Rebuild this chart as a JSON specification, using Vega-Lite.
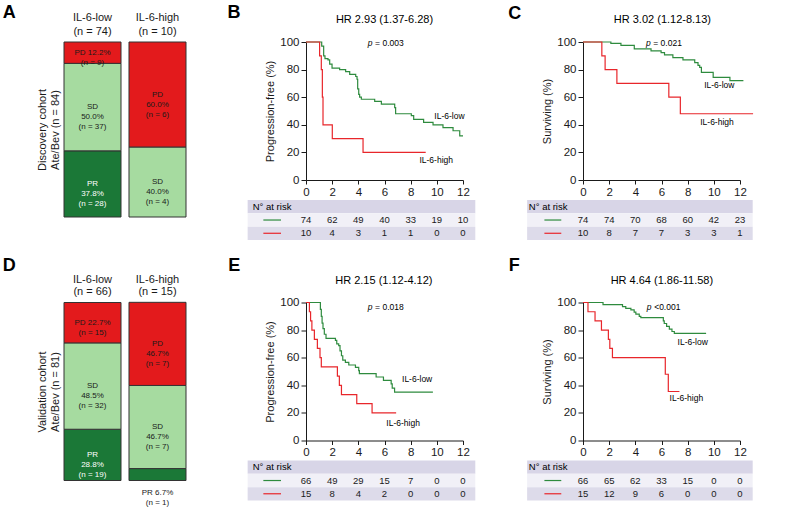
{
  "$schema": "https://vega.github.io/schema/vega-lite/v6.json",
  "padding": {"left": 2, "top": 4, "right": 0, "bottom": 0},
  "background": "white",
  "config": {
    "font": "Liberation Sans",
    "view": {"stroke": null},
    "axis": {"grid": false, "domainColor": "#1a1a1a", "tickColor": "#1a1a1a", "labelColor": "#1a1a1a", "titleColor": "#1a1a1a", "labelOverlap": false},
    "axisX": {"tickCount": 7},
    "axisY": {"tickCount": 6}
  },
  "datasets": {
    "bars": [
      {"cohort": "Discovery", "group": "IL-6-low", "gn": "(n = 74)", "resp": "PR", "rank": 1, "pct": 37.8, "label": "PR\n37.8%\n(n = 28)"},
      {"cohort": "Discovery", "group": "IL-6-low", "gn": "(n = 74)", "resp": "SD", "rank": 2, "pct": 50.0, "label": "SD\n50.0%\n(n = 37)"},
      {"cohort": "Discovery", "group": "IL-6-low", "gn": "(n = 74)", "resp": "PD", "rank": 3, "pct": 12.2, "label": "PD 12.2%\n(n = 9)"},
      {"cohort": "Discovery", "group": "IL-6-high", "gn": "(n = 10)", "resp": "SD", "rank": 2, "pct": 40.0, "label": "SD\n40.0%\n(n = 4)"},
      {"cohort": "Discovery", "group": "IL-6-high", "gn": "(n = 10)", "resp": "PD", "rank": 3, "pct": 60.0, "label": "PD\n60.0%\n(n = 6)"},
      {"cohort": "Validation", "group": "IL-6-low", "gn": "(n = 66)", "resp": "PR", "rank": 1, "pct": 28.8, "label": "PR\n28.8%\n(n = 19)"},
      {"cohort": "Validation", "group": "IL-6-low", "gn": "(n = 66)", "resp": "SD", "rank": 2, "pct": 48.5, "label": "SD\n48.5%\n(n = 32)"},
      {"cohort": "Validation", "group": "IL-6-low", "gn": "(n = 66)", "resp": "PD", "rank": 3, "pct": 22.7, "label": "PD 22.7%\n(n = 15)"},
      {"cohort": "Validation", "group": "IL-6-high", "gn": "(n = 15)", "resp": "PR", "rank": 1, "pct": 6.7, "label": "PR 6.7%\n(n = 1)"},
      {"cohort": "Validation", "group": "IL-6-high", "gn": "(n = 15)", "resp": "SD", "rank": 2, "pct": 46.7, "label": "SD\n46.7%\n(n = 7)"},
      {"cohort": "Validation", "group": "IL-6-high", "gn": "(n = 15)", "resp": "PD", "rank": 3, "pct": 46.7, "label": "PD\n46.7%\n(n = 7)"}
    ],
    "km": [
      {"panel": "B", "group": "IL-6-low", "t": 0, "s": 100}, {"panel": "B", "group": "IL-6-low", "t": 1.2, "s": 97}, {"panel": "B", "group": "IL-6-low", "t": 1.35, "s": 90}, {"panel": "B", "group": "IL-6-low", "t": 1.45, "s": 88}, {"panel": "B", "group": "IL-6-low", "t": 1.68, "s": 87}, {"panel": "B", "group": "IL-6-low", "t": 1.81, "s": 84}, {"panel": "B", "group": "IL-6-low", "t": 1.99, "s": 81}, {"panel": "B", "group": "IL-6-low", "t": 2.57, "s": 80}, {"panel": "B", "group": "IL-6-low", "t": 3.03, "s": 78.5}, {"panel": "B", "group": "IL-6-low", "t": 3.34, "s": 76.6}, {"panel": "B", "group": "IL-6-low", "t": 3.8, "s": 75}, {"panel": "B", "group": "IL-6-low", "t": 3.9, "s": 73}, {"panel": "B", "group": "IL-6-low", "t": 3.95, "s": 66}, {"panel": "B", "group": "IL-6-low", "t": 4.03, "s": 62}, {"panel": "B", "group": "IL-6-low", "t": 4.1, "s": 60}, {"panel": "B", "group": "IL-6-low", "t": 4.23, "s": 58.5}, {"panel": "B", "group": "IL-6-low", "t": 5.25, "s": 57}, {"panel": "B", "group": "IL-6-low", "t": 5.76, "s": 55}, {"panel": "B", "group": "IL-6-low", "t": 6.78, "s": 52.5}, {"panel": "B", "group": "IL-6-low", "t": 6.85, "s": 48}, {"panel": "B", "group": "IL-6-low", "t": 8.05, "s": 46.6}, {"panel": "B", "group": "IL-6-low", "t": 8.23, "s": 44}, {"panel": "B", "group": "IL-6-low", "t": 8.99, "s": 41.8}, {"panel": "B", "group": "IL-6-low", "t": 9.71, "s": 40}, {"panel": "B", "group": "IL-6-low", "t": 10.47, "s": 38}, {"panel": "B", "group": "IL-6-low", "t": 11.24, "s": 35.7}, {"panel": "B", "group": "IL-6-low", "t": 11.75, "s": 32}, {"panel": "B", "group": "IL-6-low", "t": 12.0, "s": 32},
      {"panel": "B", "group": "IL-6-high", "t": 0, "s": 100}, {"panel": "B", "group": "IL-6-high", "t": 1.04, "s": 90}, {"panel": "B", "group": "IL-6-high", "t": 1.17, "s": 80}, {"panel": "B", "group": "IL-6-high", "t": 1.25, "s": 60}, {"panel": "B", "group": "IL-6-high", "t": 1.3, "s": 40}, {"panel": "B", "group": "IL-6-high", "t": 2.01, "s": 30}, {"panel": "B", "group": "IL-6-high", "t": 4.36, "s": 20}, {"panel": "B", "group": "IL-6-high", "t": 9.15, "s": 20},
      {"panel": "C", "group": "IL-6-low", "t": 0, "s": 100}, {"panel": "C", "group": "IL-6-low", "t": 2.13, "s": 99}, {"panel": "C", "group": "IL-6-low", "t": 2.9, "s": 97.5}, {"panel": "C", "group": "IL-6-low", "t": 3.92, "s": 95}, {"panel": "C", "group": "IL-6-low", "t": 5.2, "s": 93.5}, {"panel": "C", "group": "IL-6-low", "t": 5.97, "s": 92.3}, {"panel": "C", "group": "IL-6-low", "t": 6.23, "s": 90.6}, {"panel": "C", "group": "IL-6-low", "t": 6.87, "s": 88.7}, {"panel": "C", "group": "IL-6-low", "t": 7.64, "s": 87}, {"panel": "C", "group": "IL-6-low", "t": 8.54, "s": 85}, {"panel": "C", "group": "IL-6-low", "t": 8.79, "s": 83}, {"panel": "C", "group": "IL-6-low", "t": 8.92, "s": 81.6}, {"panel": "C", "group": "IL-6-low", "t": 9.05, "s": 78}, {"panel": "C", "group": "IL-6-low", "t": 9.95, "s": 74.4}, {"panel": "C", "group": "IL-6-low", "t": 11.23, "s": 72}, {"panel": "C", "group": "IL-6-low", "t": 12.26, "s": 72},
      {"panel": "C", "group": "IL-6-high", "t": 0, "s": 100}, {"panel": "C", "group": "IL-6-high", "t": 1.44, "s": 90}, {"panel": "C", "group": "IL-6-high", "t": 1.69, "s": 80}, {"panel": "C", "group": "IL-6-high", "t": 2.59, "s": 70}, {"panel": "C", "group": "IL-6-high", "t": 6.56, "s": 60}, {"panel": "C", "group": "IL-6-high", "t": 7.44, "s": 48}, {"panel": "C", "group": "IL-6-high", "t": 13.0, "s": 48},
      {"panel": "E", "group": "IL-6-low", "t": 0, "s": 100}, {"panel": "E", "group": "IL-6-low", "t": 1.1, "s": 95}, {"panel": "E", "group": "IL-6-low", "t": 1.17, "s": 90}, {"panel": "E", "group": "IL-6-low", "t": 1.23, "s": 85}, {"panel": "E", "group": "IL-6-low", "t": 1.3, "s": 81}, {"panel": "E", "group": "IL-6-low", "t": 1.4, "s": 77}, {"panel": "E", "group": "IL-6-low", "t": 1.53, "s": 74}, {"panel": "E", "group": "IL-6-low", "t": 2.25, "s": 72.5}, {"panel": "E", "group": "IL-6-low", "t": 2.35, "s": 70}, {"panel": "E", "group": "IL-6-low", "t": 2.5, "s": 68.7}, {"panel": "E", "group": "IL-6-low", "t": 2.6, "s": 65}, {"panel": "E", "group": "IL-6-low", "t": 2.71, "s": 61.4}, {"panel": "E", "group": "IL-6-low", "t": 2.81, "s": 58.3}, {"panel": "E", "group": "IL-6-low", "t": 3.01, "s": 56.6}, {"panel": "E", "group": "IL-6-low", "t": 3.27, "s": 54.7}, {"panel": "E", "group": "IL-6-low", "t": 3.78, "s": 53}, {"panel": "E", "group": "IL-6-low", "t": 4.03, "s": 50.6}, {"panel": "E", "group": "IL-6-low", "t": 4.08, "s": 48.5}, {"panel": "E", "group": "IL-6-low", "t": 5.36, "s": 46}, {"panel": "E", "group": "IL-6-low", "t": 5.92, "s": 43.5}, {"panel": "E", "group": "IL-6-low", "t": 6.51, "s": 41}, {"panel": "E", "group": "IL-6-low", "t": 6.59, "s": 38}, {"panel": "E", "group": "IL-6-low", "t": 6.77, "s": 35}, {"panel": "E", "group": "IL-6-low", "t": 9.7, "s": 35},
      {"panel": "E", "group": "IL-6-high", "t": 0, "s": 100}, {"panel": "E", "group": "IL-6-high", "t": 0.26, "s": 93.3}, {"panel": "E", "group": "IL-6-high", "t": 0.35, "s": 86.7}, {"panel": "E", "group": "IL-6-high", "t": 0.45, "s": 80}, {"panel": "E", "group": "IL-6-high", "t": 0.64, "s": 73.3}, {"panel": "E", "group": "IL-6-high", "t": 0.87, "s": 66.7}, {"panel": "E", "group": "IL-6-high", "t": 1.07, "s": 60}, {"panel": "E", "group": "IL-6-high", "t": 1.17, "s": 53.3}, {"panel": "E", "group": "IL-6-high", "t": 2.4, "s": 46.7}, {"panel": "E", "group": "IL-6-high", "t": 2.55, "s": 40}, {"panel": "E", "group": "IL-6-high", "t": 2.71, "s": 33.3}, {"panel": "E", "group": "IL-6-high", "t": 3.88, "s": 26.7}, {"panel": "E", "group": "IL-6-high", "t": 5.05, "s": 20}, {"panel": "E", "group": "IL-6-high", "t": 6.89, "s": 20},
      {"panel": "F", "group": "IL-6-low", "t": 0, "s": 100}, {"panel": "F", "group": "IL-6-low", "t": 1.53, "s": 98.5}, {"panel": "F", "group": "IL-6-low", "t": 3.02, "s": 97}, {"panel": "F", "group": "IL-6-low", "t": 3.27, "s": 95.7}, {"panel": "F", "group": "IL-6-low", "t": 3.66, "s": 94.7}, {"panel": "F", "group": "IL-6-low", "t": 3.91, "s": 93}, {"panel": "F", "group": "IL-6-low", "t": 4.04, "s": 91.6}, {"panel": "F", "group": "IL-6-low", "t": 4.3, "s": 89.9}, {"panel": "F", "group": "IL-6-low", "t": 4.42, "s": 89}, {"panel": "F", "group": "IL-6-low", "t": 6.14, "s": 86.7}, {"panel": "F", "group": "IL-6-low", "t": 6.21, "s": 84.8}, {"panel": "F", "group": "IL-6-low", "t": 6.39, "s": 82.7}, {"panel": "F", "group": "IL-6-low", "t": 6.6, "s": 80.7}, {"panel": "F", "group": "IL-6-low", "t": 6.8, "s": 79}, {"panel": "F", "group": "IL-6-low", "t": 6.98, "s": 77.6}, {"panel": "F", "group": "IL-6-low", "t": 9.41, "s": 77.6},
      {"panel": "F", "group": "IL-6-high", "t": 0, "s": 100}, {"panel": "F", "group": "IL-6-high", "t": 0.38, "s": 93.3}, {"panel": "F", "group": "IL-6-high", "t": 0.92, "s": 86.7}, {"panel": "F", "group": "IL-6-high", "t": 1.41, "s": 80}, {"panel": "F", "group": "IL-6-high", "t": 1.94, "s": 73.3}, {"panel": "F", "group": "IL-6-high", "t": 2.05, "s": 66.7}, {"panel": "F", "group": "IL-6-high", "t": 2.25, "s": 60}, {"panel": "F", "group": "IL-6-high", "t": 6.29, "s": 48}, {"panel": "F", "group": "IL-6-high", "t": 6.52, "s": 35.5}, {"panel": "F", "group": "IL-6-high", "t": 7.37, "s": 35.5}
    ],
    "risk": [
      {"panel": "B", "group": "IL-6-low", "t": 0, "n": 74}, {"panel": "B", "group": "IL-6-low", "t": 2, "n": 62}, {"panel": "B", "group": "IL-6-low", "t": 4, "n": 49}, {"panel": "B", "group": "IL-6-low", "t": 6, "n": 40}, {"panel": "B", "group": "IL-6-low", "t": 8, "n": 33}, {"panel": "B", "group": "IL-6-low", "t": 10, "n": 19}, {"panel": "B", "group": "IL-6-low", "t": 12, "n": 10},
      {"panel": "B", "group": "IL-6-high", "t": 0, "n": 10}, {"panel": "B", "group": "IL-6-high", "t": 2, "n": 4}, {"panel": "B", "group": "IL-6-high", "t": 4, "n": 3}, {"panel": "B", "group": "IL-6-high", "t": 6, "n": 1}, {"panel": "B", "group": "IL-6-high", "t": 8, "n": 1}, {"panel": "B", "group": "IL-6-high", "t": 10, "n": 0}, {"panel": "B", "group": "IL-6-high", "t": 12, "n": 0},
      {"panel": "C", "group": "IL-6-low", "t": 0, "n": 74}, {"panel": "C", "group": "IL-6-low", "t": 2, "n": 74}, {"panel": "C", "group": "IL-6-low", "t": 4, "n": 70}, {"panel": "C", "group": "IL-6-low", "t": 6, "n": 68}, {"panel": "C", "group": "IL-6-low", "t": 8, "n": 60}, {"panel": "C", "group": "IL-6-low", "t": 10, "n": 42}, {"panel": "C", "group": "IL-6-low", "t": 12, "n": 23},
      {"panel": "C", "group": "IL-6-high", "t": 0, "n": 10}, {"panel": "C", "group": "IL-6-high", "t": 2, "n": 8}, {"panel": "C", "group": "IL-6-high", "t": 4, "n": 7}, {"panel": "C", "group": "IL-6-high", "t": 6, "n": 7}, {"panel": "C", "group": "IL-6-high", "t": 8, "n": 3}, {"panel": "C", "group": "IL-6-high", "t": 10, "n": 3}, {"panel": "C", "group": "IL-6-high", "t": 12, "n": 1},
      {"panel": "E", "group": "IL-6-low", "t": 0, "n": 66}, {"panel": "E", "group": "IL-6-low", "t": 2, "n": 49}, {"panel": "E", "group": "IL-6-low", "t": 4, "n": 29}, {"panel": "E", "group": "IL-6-low", "t": 6, "n": 15}, {"panel": "E", "group": "IL-6-low", "t": 8, "n": 7}, {"panel": "E", "group": "IL-6-low", "t": 10, "n": 0}, {"panel": "E", "group": "IL-6-low", "t": 12, "n": 0},
      {"panel": "E", "group": "IL-6-high", "t": 0, "n": 15}, {"panel": "E", "group": "IL-6-high", "t": 2, "n": 8}, {"panel": "E", "group": "IL-6-high", "t": 4, "n": 4}, {"panel": "E", "group": "IL-6-high", "t": 6, "n": 2}, {"panel": "E", "group": "IL-6-high", "t": 8, "n": 0}, {"panel": "E", "group": "IL-6-high", "t": 10, "n": 0}, {"panel": "E", "group": "IL-6-high", "t": 12, "n": 0},
      {"panel": "F", "group": "IL-6-low", "t": 0, "n": 66}, {"panel": "F", "group": "IL-6-low", "t": 2, "n": 65}, {"panel": "F", "group": "IL-6-low", "t": 4, "n": 62}, {"panel": "F", "group": "IL-6-low", "t": 6, "n": 33}, {"panel": "F", "group": "IL-6-low", "t": 8, "n": 15}, {"panel": "F", "group": "IL-6-low", "t": 10, "n": 0}, {"panel": "F", "group": "IL-6-low", "t": 12, "n": 0},
      {"panel": "F", "group": "IL-6-high", "t": 0, "n": 15}, {"panel": "F", "group": "IL-6-high", "t": 2, "n": 12}, {"panel": "F", "group": "IL-6-high", "t": 4, "n": 9}, {"panel": "F", "group": "IL-6-high", "t": 6, "n": 6}, {"panel": "F", "group": "IL-6-high", "t": 8, "n": 0}, {"panel": "F", "group": "IL-6-high", "t": 10, "n": 0}, {"panel": "F", "group": "IL-6-high", "t": 12, "n": 0}
    ]
  },
  "columns": 3,
  "spacing": {"row": 85.5, "column": 120},
  "bounds": "flush",
  "resolve": {"scale": {"color": "independent"}},
  "concat": [
    {
      "width": 122, "height": 175,
      "data": {"name": "bars"},
      "transform": [{"filter": "datum.cohort === 'Discovery'"}],
      "encoding": {
        "x": {"field": "group", "type": "nominal", "sort": null, "scale": {"paddingInner": 0.123, "paddingOuter": 0}, "axis": null}
      },
      "layer": [
        {"mark": {"type": "bar", "stroke": "#333333", "strokeWidth": 1},
         "encoding": {
           "y": {"field": "pct", "type": "quantitative", "stack": "zero", "scale": {"domain": [0, 100], "nice": false}, "axis": {"title": ["Discovery cohort", "Ate/Bev (n = 84)"], "labels": false, "ticks": false, "domain": false, "titleFontSize": 11, "titleFontWeight": "normal", "titlePadding": 4, "titleLineHeight": 13}},
           "order": {"field": "rank", "type": "quantitative", "sort": "ascending"},
           "color": {"field": "resp", "type": "nominal", "scale": {"domain": ["PR", "SD", "PD"], "range": ["#1b7837", "#a6dba0", "#e31a1c"]}, "legend": null}
         }},
        {"mark": {"type": "text", "fontSize": 8, "lineBreak": "\n", "lineHeight": 10, "baseline": "middle", "align": "center"},
         "encoding": {
           "y": {"field": "pct", "type": "quantitative", "stack": "zero", "bandPosition": 0.5},
           "order": {"field": "rank", "type": "quantitative", "sort": "ascending"},
           "detail": {"field": "resp", "type": "nominal"},
           "text": {"condition": {"test": "datum.pct < 10", "value": ""}, "field": "label", "type": "nominal"},
           "color": {"condition": {"test": "datum.resp === 'PR'", "value": "#ffffff"}, "value": "#1a1a1a"}
         }},
        {"transform": [{"filter": "datum.rank === 2"}],
         "mark": {"type": "text", "fontSize": 11, "baseline": "middle", "align": "center", "color": "#1a1a1a"},
         "encoding": {"y": {"datum": 113.5}, "text": {"field": "group", "type": "nominal"}}},
        {"transform": [{"filter": "datum.rank === 2"}],
         "mark": {"type": "text", "fontSize": 11, "baseline": "middle", "align": "center", "color": "#1a1a1a"},
         "encoding": {"y": {"datum": 105.9}, "text": {"field": "gn", "type": "nominal"}}},
        {"transform": [{"filter": "datum.rank === 2 && datum.group === 'IL-6-low'"}],
         "mark": {"type": "text", "fontSize": 18, "fontWeight": "bold", "baseline": "alphabetic", "align": "left", "dx": -61.3, "color": "#000000"},
         "encoding": {"x": {"field": "group", "type": "nominal", "bandPosition": 0}, "y": {"datum": 113.5}, "text": {"value": "A"}}}
      ]
    },
    {
      "width": 157, "height": 138,
      "layer": [
        {"data": {"name": "km"}, "transform": [{"filter": "datum.panel === 'B'"}],
         "mark": {"type": "line", "interpolate": "step-after", "strokeWidth": 1.2},
         "encoding": {
           "x": {"field": "t", "type": "quantitative", "scale": {"domain": [0, 12], "nice": false}, "axis": {"values": [0, 2, 4, 6, 8, 10, 12], "title": null, "tickSize": 4, "labelPadding": 2, "labelFontSize": 11.5, "labelFlush": false}},
           "y": {"field": "s", "type": "quantitative", "scale": {"domain": [0, 100], "nice": false}, "axis": {"values": [0, 20, 40, 60, 80, 100], "title": "Progression-free (%)", "titleFontSize": 11, "titleFontWeight": "normal", "titlePadding": 4, "tickSize": 5, "labelPadding": 2, "labelFontSize": 11.5}},
           "color": {"field": "group", "type": "nominal", "scale": {"domain": ["IL-6-low", "IL-6-high"], "range": ["#2e8b3e", "#e8262b"]}, "legend": null}
         }},
        {"data": {"values": [{}]}, "mark": {"type": "rect", "color": "#d8d5e7"}, "encoding": {"x": {"datum": -4.46}, "x2": {"datum": 12.94}, "y": {"datum": -14.5}, "y2": {"datum": -24.1}}},
        {"data": {"values": [{}]}, "mark": {"type": "rect", "color": "#f1f0f7"}, "encoding": {"x": {"datum": -4.46}, "x2": {"datum": 12.94}, "y": {"datum": -24.1}, "y2": {"datum": -33.8}}},
        {"data": {"values": [{}]}, "mark": {"type": "rect", "color": "#dddbea"}, "encoding": {"x": {"datum": -4.46}, "x2": {"datum": 12.94}, "y": {"datum": -33.8}, "y2": {"datum": -43.5}}},
        {"data": {"values": [{}]}, "mark": {"type": "text", "fontSize": 11, "align": "center", "baseline": "middle"}, "encoding": {"x": {"datum": 6}, "y": {"datum": 115.8}, "text": {"value": "HR 2.93 (1.37-6.28)"}}},
        {"data": {"values": [{}]}, "mark": {"type": "text", "fontSize": 18, "fontWeight": "bold", "align": "left", "baseline": "alphabetic"}, "encoding": {"x": {"datum": -6}, "y": {"datum": 117.2}, "text": {"value": "B"}}},
        {"data": {"values": [{}]}, "mark": {"type": "text", "fontSize": 8.5, "fontStyle": "italic", "align": "left", "baseline": "middle"}, "encoding": {"x": {"datum": 4.72}, "y": {"datum": 99.3}, "text": {"value": "p"}}},
        {"data": {"values": [{}]}, "mark": {"type": "text", "fontSize": 8.5, "align": "left", "baseline": "middle"}, "encoding": {"x": {"datum": 5.28}, "y": {"datum": 99.3}, "text": {"value": "= 0.003"}}},
        {"data": {"values": [{}]}, "mark": {"type": "text", "fontSize": 8.5, "align": "left", "baseline": "middle"}, "encoding": {"x": {"datum": 9.81}, "y": {"datum": 46.3}, "text": {"value": "IL-6-low"}}},
        {"data": {"values": [{}]}, "mark": {"type": "text", "fontSize": 8.5, "align": "left", "baseline": "middle"}, "encoding": {"x": {"datum": 8.67}, "y": {"datum": 14.3}, "text": {"value": "IL-6-high"}}},
        {"data": {"values": [{}]}, "mark": {"type": "text", "fontSize": 9.5, "align": "left", "baseline": "middle"}, "encoding": {"x": {"datum": -4.07}, "y": {"datum": -19.3}, "text": {"value": "N° at risk"}}},
        {"data": {"values": [{}]}, "mark": {"type": "rule", "color": "#2e8b3e", "strokeWidth": 1.2}, "encoding": {"x": {"datum": -3.26}, "x2": {"datum": -1.91}, "y": {"datum": -29}}},
        {"data": {"values": [{}]}, "mark": {"type": "rule", "color": "#e8262b", "strokeWidth": 1.2}, "encoding": {"x": {"datum": -3.26}, "x2": {"datum": -1.91}, "y": {"datum": -38.6}}},
        {"data": {"name": "risk"}, "transform": [{"filter": "datum.panel === 'B' && datum.group === 'IL-6-low'"}], "mark": {"type": "text", "fontSize": 9.5, "align": "center", "baseline": "middle", "color": "#1a1a1a"}, "encoding": {"x": {"field": "t", "type": "quantitative", "title": null}, "y": {"datum": -29}, "text": {"field": "n", "type": "quantitative"}}},
        {"data": {"name": "risk"}, "transform": [{"filter": "datum.panel === 'B' && datum.group === 'IL-6-high'"}], "mark": {"type": "text", "fontSize": 9.5, "align": "center", "baseline": "middle", "color": "#1a1a1a"}, "encoding": {"x": {"field": "t", "type": "quantitative", "title": null}, "y": {"datum": -38.6}, "text": {"field": "n", "type": "quantitative"}}}
      ]
    },
    {
      "width": 157, "height": 138,
      "layer": [
        {"data": {"name": "km"}, "transform": [{"filter": "datum.panel === 'C'"}],
         "mark": {"type": "line", "interpolate": "step-after", "strokeWidth": 1.2},
         "encoding": {
           "x": {"field": "t", "type": "quantitative", "scale": {"domain": [0, 12], "nice": false}, "axis": {"values": [0, 2, 4, 6, 8, 10, 12], "title": null, "tickSize": 4, "labelPadding": 2, "labelFontSize": 11.5, "labelFlush": false}},
           "y": {"field": "s", "type": "quantitative", "scale": {"domain": [0, 100], "nice": false}, "axis": {"values": [0, 20, 40, 60, 80, 100], "title": "Surviving (%)", "titleFontSize": 11, "titleFontWeight": "normal", "titlePadding": 4, "tickSize": 5, "labelPadding": 2, "labelFontSize": 11.5}},
           "color": {"field": "group", "type": "nominal", "scale": {"domain": ["IL-6-low", "IL-6-high"], "range": ["#2e8b3e", "#e8262b"]}, "legend": null}
         }},
        {"data": {"values": [{}]}, "mark": {"type": "rect", "color": "#d8d5e7"}, "encoding": {"x": {"datum": -4.27}, "x2": {"datum": 12.97}, "y": {"datum": -14.5}, "y2": {"datum": -24.1}}},
        {"data": {"values": [{}]}, "mark": {"type": "rect", "color": "#f1f0f7"}, "encoding": {"x": {"datum": -4.27}, "x2": {"datum": 12.97}, "y": {"datum": -24.1}, "y2": {"datum": -33.8}}},
        {"data": {"values": [{}]}, "mark": {"type": "rect", "color": "#dddbea"}, "encoding": {"x": {"datum": -4.27}, "x2": {"datum": 12.97}, "y": {"datum": -33.8}, "y2": {"datum": -43.5}}},
        {"data": {"values": [{}]}, "mark": {"type": "text", "fontSize": 11, "align": "center", "baseline": "middle"}, "encoding": {"x": {"datum": 6.07}, "y": {"datum": 115.8}, "text": {"value": "HR 3.02 (1.12-8.13)"}}},
        {"data": {"values": [{}]}, "mark": {"type": "text", "fontSize": 18, "fontWeight": "bold", "align": "left", "baseline": "alphabetic"}, "encoding": {"x": {"datum": -5.72}, "y": {"datum": 117}, "text": {"value": "C"}}},
        {"data": {"values": [{}]}, "mark": {"type": "text", "fontSize": 8.5, "fontStyle": "italic", "align": "left", "baseline": "middle"}, "encoding": {"x": {"datum": 4.81}, "y": {"datum": 99.3}, "text": {"value": "p"}}},
        {"data": {"values": [{}]}, "mark": {"type": "text", "fontSize": 8.5, "align": "left", "baseline": "middle"}, "encoding": {"x": {"datum": 5.37}, "y": {"datum": 99.3}, "text": {"value": "= 0.021"}}},
        {"data": {"values": [{}]}, "mark": {"type": "text", "fontSize": 8.5, "align": "left", "baseline": "middle"}, "encoding": {"x": {"datum": 9.26}, "y": {"datum": 68.5}, "text": {"value": "IL-6-low"}}},
        {"data": {"values": [{}]}, "mark": {"type": "text", "fontSize": 8.5, "align": "left", "baseline": "middle"}, "encoding": {"x": {"datum": 8.96}, "y": {"datum": 41.9}, "text": {"value": "IL-6-high"}}},
        {"data": {"values": [{}]}, "mark": {"type": "text", "fontSize": 9.5, "align": "left", "baseline": "middle"}, "encoding": {"x": {"datum": -4.14}, "y": {"datum": -19.3}, "text": {"value": "N° at risk"}}},
        {"data": {"values": [{}]}, "mark": {"type": "rule", "color": "#2e8b3e", "strokeWidth": 1.2}, "encoding": {"x": {"datum": -2.95}, "x2": {"datum": -1.66}, "y": {"datum": -29}}},
        {"data": {"values": [{}]}, "mark": {"type": "rule", "color": "#e8262b", "strokeWidth": 1.2}, "encoding": {"x": {"datum": -2.95}, "x2": {"datum": -1.66}, "y": {"datum": -38.6}}},
        {"data": {"name": "risk"}, "transform": [{"filter": "datum.panel === 'C' && datum.group === 'IL-6-low'"}], "mark": {"type": "text", "fontSize": 9.5, "align": "center", "baseline": "middle", "color": "#1a1a1a"}, "encoding": {"x": {"field": "t", "type": "quantitative", "title": null}, "y": {"datum": -29}, "text": {"field": "n", "type": "quantitative"}}},
        {"data": {"name": "risk"}, "transform": [{"filter": "datum.panel === 'C' && datum.group === 'IL-6-high'"}], "mark": {"type": "text", "fontSize": 9.5, "align": "center", "baseline": "middle", "color": "#1a1a1a"}, "encoding": {"x": {"field": "t", "type": "quantitative", "title": null}, "y": {"datum": -38.6}, "text": {"field": "n", "type": "quantitative"}}}
      ]
    },
    {
      "width": 122, "height": 178,
      "data": {"name": "bars"},
      "transform": [{"filter": "datum.cohort === 'Validation'"}],
      "encoding": {
        "x": {"field": "group", "type": "nominal", "sort": null, "scale": {"paddingInner": 0.123, "paddingOuter": 0}, "axis": null}
      },
      "layer": [
        {"mark": {"type": "bar", "stroke": "#333333", "strokeWidth": 1},
         "encoding": {
           "y": {"field": "pct", "type": "quantitative", "stack": "zero", "scale": {"domain": [0, 100], "nice": false}, "axis": {"title": ["Validation cohort", "Ate/Bev (n = 81)"], "labels": false, "ticks": false, "domain": false, "titleFontSize": 11, "titleFontWeight": "normal", "titlePadding": 4, "titleLineHeight": 13}},
           "order": {"field": "rank", "type": "quantitative", "sort": "ascending"},
           "color": {"field": "resp", "type": "nominal", "scale": {"domain": ["PR", "SD", "PD"], "range": ["#1b7837", "#a6dba0", "#e31a1c"]}, "legend": null}
         }},
        {"mark": {"type": "text", "fontSize": 8, "lineBreak": "\n", "lineHeight": 10, "baseline": "middle", "align": "center"},
         "encoding": {
           "y": {"field": "pct", "type": "quantitative", "stack": "zero", "bandPosition": 0.5},
           "order": {"field": "rank", "type": "quantitative", "sort": "ascending"},
           "detail": {"field": "resp", "type": "nominal"},
           "text": {"condition": {"test": "datum.pct < 10", "value": ""}, "field": "label", "type": "nominal"},
           "color": {"condition": {"test": "datum.resp === 'PR'", "value": "#ffffff"}, "value": "#1a1a1a"}
         }},
        {"transform": [{"filter": "datum.pct < 10"}],
         "mark": {"type": "text", "fontSize": 8, "lineBreak": "\n", "lineHeight": 10, "baseline": "middle", "align": "center", "color": "#1a1a1a"},
         "encoding": {"y": {"datum": -7}, "text": {"field": "label", "type": "nominal"}}},
        {"transform": [{"filter": "datum.rank === 2"}],
         "mark": {"type": "text", "fontSize": 11, "baseline": "middle", "align": "center", "color": "#1a1a1a"},
         "encoding": {"y": {"datum": 112.6}, "text": {"field": "group", "type": "nominal"}}},
        {"transform": [{"filter": "datum.rank === 2"}],
         "mark": {"type": "text", "fontSize": 11, "baseline": "middle", "align": "center", "color": "#1a1a1a"},
         "encoding": {"y": {"datum": 105.7}, "text": {"field": "gn", "type": "nominal"}}},
        {"transform": [{"filter": "datum.rank === 2 && datum.group === 'IL-6-low'"}],
         "mark": {"type": "text", "fontSize": 18, "fontWeight": "bold", "baseline": "alphabetic", "align": "left", "dx": -61.3, "color": "#000000"},
         "encoding": {"x": {"field": "group", "type": "nominal", "bandPosition": 0}, "y": {"datum": 117.9}, "text": {"value": "D"}}}
      ]
    },
    {
      "width": 157, "height": 138,
      "layer": [
        {"data": {"name": "km"}, "transform": [{"filter": "datum.panel === 'E'"}],
         "mark": {"type": "line", "interpolate": "step-after", "strokeWidth": 1.2},
         "encoding": {
           "x": {"field": "t", "type": "quantitative", "scale": {"domain": [0, 12], "nice": false}, "axis": {"values": [0, 2, 4, 6, 8, 10, 12], "title": null, "tickSize": 4, "labelPadding": 2, "labelFontSize": 11.5, "labelFlush": false}},
           "y": {"field": "s", "type": "quantitative", "scale": {"domain": [0, 100], "nice": false}, "axis": {"values": [0, 20, 40, 60, 80, 100], "title": "Progression-free (%)", "titleFontSize": 11, "titleFontWeight": "normal", "titlePadding": 4, "tickSize": 5, "labelPadding": 2, "labelFontSize": 11.5}},
           "color": {"field": "group", "type": "nominal", "scale": {"domain": ["IL-6-low", "IL-6-high"], "range": ["#2e8b3e", "#e8262b"]}, "legend": null}
         }},
        {"data": {"values": [{}]}, "mark": {"type": "rect", "color": "#d8d5e7"}, "encoding": {"x": {"datum": -4.46}, "x2": {"datum": 12.94}, "y": {"datum": -14.5}, "y2": {"datum": -24.1}}},
        {"data": {"values": [{}]}, "mark": {"type": "rect", "color": "#f1f0f7"}, "encoding": {"x": {"datum": -4.46}, "x2": {"datum": 12.94}, "y": {"datum": -24.1}, "y2": {"datum": -33.8}}},
        {"data": {"values": [{}]}, "mark": {"type": "rect", "color": "#dddbea"}, "encoding": {"x": {"datum": -4.46}, "x2": {"datum": 12.94}, "y": {"datum": -33.8}, "y2": {"datum": -43.5}}},
        {"data": {"values": [{}]}, "mark": {"type": "text", "fontSize": 11, "align": "center", "baseline": "middle"}, "encoding": {"x": {"datum": 5.95}, "y": {"datum": 115.8}, "text": {"value": "HR 2.15 (1.12-4.12)"}}},
        {"data": {"values": [{}]}, "mark": {"type": "text", "fontSize": 18, "fontWeight": "bold", "align": "left", "baseline": "alphabetic"}, "encoding": {"x": {"datum": -5.94}, "y": {"datum": 122.5}, "text": {"value": "E"}}},
        {"data": {"values": [{}]}, "mark": {"type": "text", "fontSize": 8.5, "fontStyle": "italic", "align": "left", "baseline": "middle"}, "encoding": {"x": {"datum": 4.72}, "y": {"datum": 97.1}, "text": {"value": "p"}}},
        {"data": {"values": [{}]}, "mark": {"type": "text", "fontSize": 8.5, "align": "left", "baseline": "middle"}, "encoding": {"x": {"datum": 5.28}, "y": {"datum": 97.1}, "text": {"value": "= 0.018"}}},
        {"data": {"values": [{}]}, "mark": {"type": "text", "fontSize": 8.5, "align": "left", "baseline": "middle"}, "encoding": {"x": {"datum": 7.34}, "y": {"datum": 44.5}, "text": {"value": "IL-6-low"}}},
        {"data": {"values": [{}]}, "mark": {"type": "text", "fontSize": 8.5, "align": "left", "baseline": "middle"}, "encoding": {"x": {"datum": 6.14}, "y": {"datum": 12.6}, "text": {"value": "IL-6-high"}}},
        {"data": {"values": [{}]}, "mark": {"type": "text", "fontSize": 9.5, "align": "left", "baseline": "middle"}, "encoding": {"x": {"datum": -4.07}, "y": {"datum": -19.3}, "text": {"value": "N° at risk"}}},
        {"data": {"values": [{}]}, "mark": {"type": "rule", "color": "#2e8b3e", "strokeWidth": 1.2}, "encoding": {"x": {"datum": -3.26}, "x2": {"datum": -1.91}, "y": {"datum": -29}}},
        {"data": {"values": [{}]}, "mark": {"type": "rule", "color": "#e8262b", "strokeWidth": 1.2}, "encoding": {"x": {"datum": -3.26}, "x2": {"datum": -1.91}, "y": {"datum": -38.6}}},
        {"data": {"name": "risk"}, "transform": [{"filter": "datum.panel === 'E' && datum.group === 'IL-6-low'"}], "mark": {"type": "text", "fontSize": 9.5, "align": "center", "baseline": "middle", "color": "#1a1a1a"}, "encoding": {"x": {"field": "t", "type": "quantitative", "title": null}, "y": {"datum": -29}, "text": {"field": "n", "type": "quantitative"}}},
        {"data": {"name": "risk"}, "transform": [{"filter": "datum.panel === 'E' && datum.group === 'IL-6-high'"}], "mark": {"type": "text", "fontSize": 9.5, "align": "center", "baseline": "middle", "color": "#1a1a1a"}, "encoding": {"x": {"field": "t", "type": "quantitative", "title": null}, "y": {"datum": -38.6}, "text": {"field": "n", "type": "quantitative"}}}
      ]
    },
    {
      "width": 157, "height": 138,
      "layer": [
        {"data": {"name": "km"}, "transform": [{"filter": "datum.panel === 'F'"}],
         "mark": {"type": "line", "interpolate": "step-after", "strokeWidth": 1.2},
         "encoding": {
           "x": {"field": "t", "type": "quantitative", "scale": {"domain": [0, 12], "nice": false}, "axis": {"values": [0, 2, 4, 6, 8, 10, 12], "title": null, "tickSize": 4, "labelPadding": 2, "labelFontSize": 11.5, "labelFlush": false}},
           "y": {"field": "s", "type": "quantitative", "scale": {"domain": [0, 100], "nice": false}, "axis": {"values": [0, 20, 40, 60, 80, 100], "title": "Surviving (%)", "titleFontSize": 11, "titleFontWeight": "normal", "titlePadding": 4, "tickSize": 5, "labelPadding": 2, "labelFontSize": 11.5}},
           "color": {"field": "group", "type": "nominal", "scale": {"domain": ["IL-6-low", "IL-6-high"], "range": ["#2e8b3e", "#e8262b"]}, "legend": null}
         }},
        {"data": {"values": [{}]}, "mark": {"type": "rect", "color": "#d8d5e7"}, "encoding": {"x": {"datum": -4.27}, "x2": {"datum": 12.97}, "y": {"datum": -14.5}, "y2": {"datum": -24.1}}},
        {"data": {"values": [{}]}, "mark": {"type": "rect", "color": "#f1f0f7"}, "encoding": {"x": {"datum": -4.27}, "x2": {"datum": 12.97}, "y": {"datum": -24.1}, "y2": {"datum": -33.8}}},
        {"data": {"values": [{}]}, "mark": {"type": "rect", "color": "#dddbea"}, "encoding": {"x": {"datum": -4.27}, "x2": {"datum": 12.97}, "y": {"datum": -33.8}, "y2": {"datum": -43.5}}},
        {"data": {"values": [{}]}, "mark": {"type": "text", "fontSize": 11, "align": "center", "baseline": "middle"}, "encoding": {"x": {"datum": 6.03}, "y": {"datum": 115.8}, "text": {"value": "HR 4.64 (1.86-11.58)"}}},
        {"data": {"values": [{}]}, "mark": {"type": "text", "fontSize": 18, "fontWeight": "bold", "align": "left", "baseline": "alphabetic"}, "encoding": {"x": {"datum": -5.67}, "y": {"datum": 122.5}, "text": {"value": "F"}}},
        {"data": {"values": [{}]}, "mark": {"type": "text", "fontSize": 8.5, "fontStyle": "italic", "align": "left", "baseline": "middle"}, "encoding": {"x": {"datum": 4.88}, "y": {"datum": 97.1}, "text": {"value": "p"}}},
        {"data": {"values": [{}]}, "mark": {"type": "text", "fontSize": 8.5, "align": "left", "baseline": "middle"}, "encoding": {"x": {"datum": 5.44}, "y": {"datum": 97.1}, "text": {"value": "<0.001"}}},
        {"data": {"values": [{}]}, "mark": {"type": "text", "fontSize": 8.5, "align": "left", "baseline": "middle"}, "encoding": {"x": {"datum": 7.23}, "y": {"datum": 71.7}, "text": {"value": "IL-6-low"}}},
        {"data": {"values": [{}]}, "mark": {"type": "text", "fontSize": 8.5, "align": "left", "baseline": "middle"}, "encoding": {"x": {"datum": 6.62}, "y": {"datum": 30.7}, "text": {"value": "IL-6-high"}}},
        {"data": {"values": [{}]}, "mark": {"type": "text", "fontSize": 9.5, "align": "left", "baseline": "middle"}, "encoding": {"x": {"datum": -4.14}, "y": {"datum": -19.3}, "text": {"value": "N° at risk"}}},
        {"data": {"values": [{}]}, "mark": {"type": "rule", "color": "#2e8b3e", "strokeWidth": 1.2}, "encoding": {"x": {"datum": -2.95}, "x2": {"datum": -1.66}, "y": {"datum": -29}}},
        {"data": {"values": [{}]}, "mark": {"type": "rule", "color": "#e8262b", "strokeWidth": 1.2}, "encoding": {"x": {"datum": -2.95}, "x2": {"datum": -1.66}, "y": {"datum": -38.6}}},
        {"data": {"name": "risk"}, "transform": [{"filter": "datum.panel === 'F' && datum.group === 'IL-6-low'"}], "mark": {"type": "text", "fontSize": 9.5, "align": "center", "baseline": "middle", "color": "#1a1a1a"}, "encoding": {"x": {"field": "t", "type": "quantitative", "title": null}, "y": {"datum": -29}, "text": {"field": "n", "type": "quantitative"}}},
        {"data": {"name": "risk"}, "transform": [{"filter": "datum.panel === 'F' && datum.group === 'IL-6-high'"}], "mark": {"type": "text", "fontSize": 9.5, "align": "center", "baseline": "middle", "color": "#1a1a1a"}, "encoding": {"x": {"field": "t", "type": "quantitative", "title": null}, "y": {"datum": -38.6}, "text": {"field": "n", "type": "quantitative"}}}
      ]
    }
  ]
}
